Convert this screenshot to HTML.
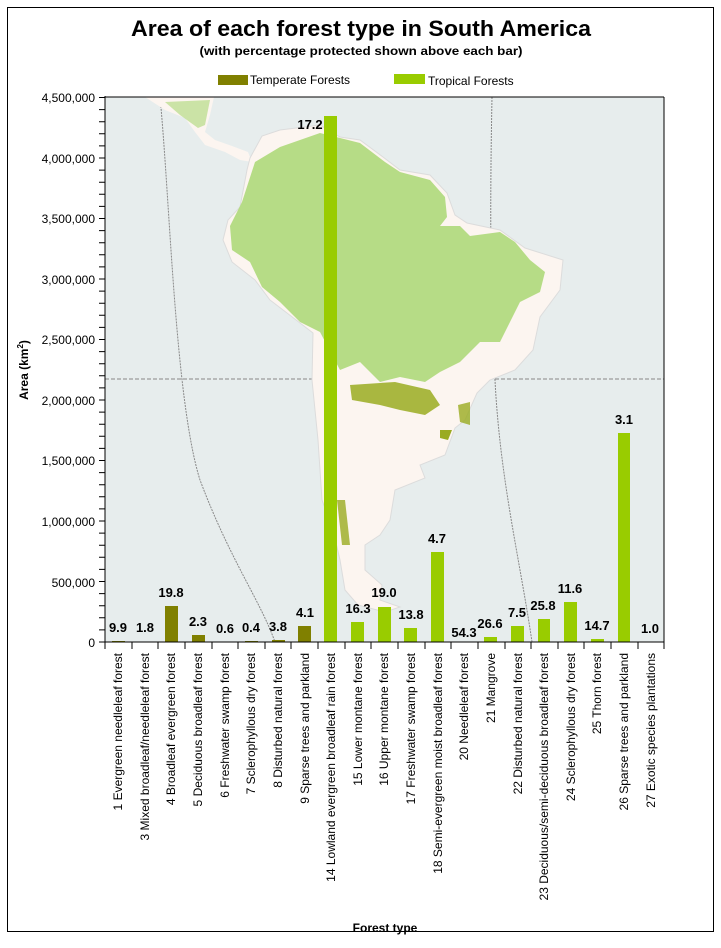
<!DOCTYPE html>
<html><head><meta charset="utf-8"><style>
html,body{margin:0;padding:0;background:#fff}
svg{display:block;font-family:"Liberation Sans",sans-serif}
</style></head><body>
<svg width="721" height="948" viewBox="0 0 721 948" xmlns="http://www.w3.org/2000/svg">
<rect x="7.5" y="7.5" width="706" height="924" fill="#fff" stroke="#000" stroke-width="1"/>
<text x="361" y="36" font-size="22" font-weight="bold" text-anchor="middle" textLength="460" lengthAdjust="spacingAndGlyphs">Area of each forest type in South America</text>
<text x="361" y="55" font-size="12" font-weight="bold" text-anchor="middle" textLength="323" lengthAdjust="spacingAndGlyphs">(with percentage protected shown above each bar)</text>
<rect x="218" y="75" width="30" height="10" fill="#808000"/>
<text x="250" y="84" font-size="12">Temperate Forests</text>
<rect x="394" y="74" width="31" height="10" fill="#99cc00"/>
<text x="428" y="85" font-size="12">Tropical Forests</text>

<!-- plot bg -->
<rect x="105" y="97" width="559" height="545" fill="#e7eded"/>
<clipPath id="pc"><rect x="105" y="97" width="559" height="545"/></clipPath>
<g clip-path="url(#pc)">
<path d="M160,97 C170,200 175,400 200,480 C230,560 260,600 275,642" fill="none" stroke="#888" stroke-dasharray="2,1"/>
<path d="M492,97 C490,200 490,300 495,380 C500,480 520,560 532,642" fill="none" stroke="#888" stroke-dasharray="2,1"/>
<line x1="105" y1="379" x2="664" y2="379" stroke="#888" stroke-dasharray="4,2"/>
<!-- central america -->
<path d="M145,97 L214,97 L210,115 L205,132 L215,140 L232,146 L248,152 L252,162 L240,160 L225,152 L205,145 L195,132 L185,118 L165,110 Z" fill="#fcf5f0"/>
<!-- south america -->
<path d="M250,158 L262,136 L280,130 L320,125 L340,137 L360,140 L383,157 L400,170 L430,175 L447,193 L455,215 L467,223 L500,230 L525,248 L563,260 L560,290 L540,317 L533,350 L515,370 L490,380 L477,393 L465,420 L455,428 L445,455 L420,465 L425,478 L395,490 L390,520 L380,535 L365,545 L365,570 L382,585 L380,600 L400,607 L385,612 L358,605 L345,590 L340,560 L333,530 L322,500 L318,440 L315,410 L312,380 L313,333 L287,313 L270,300 L255,280 L232,262 L223,240 L228,220 L240,207 L247,170 Z" fill="#fcf5f0" stroke="#dcdcdc" stroke-width="1"/>
<path d="M255,162 L280,147 L320,133 L360,143 L385,162 L400,172 L430,180 L445,197 L447,217 L440,226 L460,226 L470,236 L500,232 L515,242 L530,260 L545,272 L540,292 L520,302 L510,322 L500,342 L480,342 L460,362 L440,372 L425,382 L400,377 L380,382 L360,362 L340,370 L320,332 L300,322 L280,302 L262,287 L250,262 L232,250 L230,226 L242,202 Z" fill="#b6dc86"/>
<path d="M165,102 L210,100 L205,125 L198,128 L180,115 Z" fill="#b6dc86" opacity="0.7"/>
<path d="M350,385 L395,382 L430,390 L440,405 L425,415 L400,410 L380,405 L352,400 Z" fill="#9aab21" opacity="0.85"/>
<path d="M458,405 L470,402 L470,425 L460,422 Z" fill="#9aab21" opacity="0.8"/>
<path d="M440,430 L452,430 L448,440 L440,438 Z" fill="#9aab21"/>
<path d="M337,500 L345,500 L350,545 L342,545 Z" fill="#9aab21" opacity="0.8"/>
</g>

<!-- bars -->
<g>
<rect x="112" y="641" width="13" height="1" fill="#808000"/>
<rect x="165" y="606" width="13" height="36" fill="#808000"/>
<rect x="192" y="635" width="13" height="7" fill="#808000"/>
<rect x="245" y="641" width="13" height="1" fill="#808000"/>
<rect x="272" y="640" width="13" height="2" fill="#808000"/>
<rect x="298" y="626" width="13" height="16" fill="#808000"/>
<rect x="324" y="116" width="13" height="526" fill="#99cc00"/>
<rect x="351" y="622" width="13" height="20" fill="#99cc00"/>
<rect x="378" y="607" width="13" height="35" fill="#99cc00"/>
<rect x="404" y="628" width="13" height="14" fill="#99cc00"/>
<rect x="431" y="552" width="13" height="90" fill="#99cc00"/>
<rect x="484" y="637" width="13" height="5" fill="#99cc00"/>
<rect x="511" y="626" width="13" height="16" fill="#99cc00"/>
<rect x="538" y="619" width="12" height="23" fill="#99cc00"/>
<rect x="564" y="602" width="13" height="40" fill="#99cc00"/>
<rect x="591" y="639" width="13" height="3" fill="#99cc00"/>
<rect x="618" y="433" width="12" height="209" fill="#99cc00"/>
</g>
<g font-size="13" font-weight="bold" text-anchor="middle">
<text x="118" y="632">9.9</text>
<text x="145" y="632">1.8</text>
<text x="171" y="597">19.8</text>
<text x="198" y="626">2.3</text>
<text x="225" y="633">0.6</text>
<text x="251" y="632">0.4</text>
<text x="278" y="631">3.8</text>
<text x="305" y="617">4.1</text>
<text x="310" y="129">17.2</text>
<text x="358" y="613">16.3</text>
<text x="384" y="597">19.0</text>
<text x="411" y="619">13.8</text>
<text x="437" y="543">4.7</text>
<text x="464" y="637">54.3</text>
<text x="490" y="628">26.6</text>
<text x="517" y="617">7.5</text>
<text x="543" y="610">25.8</text>
<text x="570" y="593">11.6</text>
<text x="597" y="630">14.7</text>
<text x="624" y="424">3.1</text>
<text x="650" y="633">1.0</text>
</g>

<!-- axes -->
<line x1="105" y1="97" x2="664" y2="97" stroke="#000"/>
<line x1="664" y1="97" x2="664" y2="642" stroke="#000"/>
<line x1="105" y1="96" x2="105" y2="643" stroke="#000"/>
<line x1="104" y1="642" x2="664" y2="642" stroke="#000"/>
<g stroke="#000" id="yt">
<path d="M99,97.5h6M99,109.6h6M99,121.7h6M99,133.8h6M99,145.9h6M99,158h6M99,170.1h6M99,182.2h6M99,194.3h6M99,206.4h6M99,218.5h6M99,230.6h6M99,242.7h6M99,254.8h6M99,266.9h6M99,279h6M99,291.1h6M99,303.2h6M99,315.3h6M99,327.4h6M99,339.5h6M99,351.6h6M99,363.7h6M99,375.8h6M99,387.9h6M99,400h6M99,412.1h6M99,424.2h6M99,436.3h6M99,448.4h6M99,460.5h6M99,472.6h6M99,484.7h6M99,496.8h6M99,508.9h6M99,521h6M99,533.1h6M99,545.2h6M99,557.3h6M99,569.4h6M99,581.5h6M99,593.6h6M99,605.7h6M99,617.8h6M99,629.9h6M99,642h6"/>
<path d="M105,642v7M132,642v7M158,642v7M185,642v7M212,642v7M238,642v7M265,642v7M291,642v7M318,642v7M345,642v7M371,642v7M398,642v7M425,642v7M451,642v7M478,642v7M505,642v7M531,642v7M558,642v7M584,642v7M611,642v7M638,642v7M664,642v7"/>
</g>
<g font-size="12" text-anchor="end">
<text x="95" y="102">4,500,000</text>
<text x="95" y="163">4,000,000</text>
<text x="95" y="223">3,500,000</text>
<text x="95" y="284">3,000,000</text>
<text x="95" y="344">2,500,000</text>
<text x="95" y="405">2,000,000</text>
<text x="95" y="465">1,500,000</text>
<text x="95" y="526">1,000,000</text>
<text x="95" y="587">500,000</text>
<text x="95" y="647">0</text>
</g>
<text transform="translate(28,370) rotate(-90)" font-size="12" font-weight="bold" text-anchor="middle">Area (km<tspan font-size="8" dy="-5">2</tspan><tspan dy="5">)</tspan></text>
<g font-size="12" text-anchor="end">
<text transform="translate(122,653) rotate(-90)">1 Evergreen needleleaf forest</text>
<text transform="translate(149,653) rotate(-90)">3 Mixed broadleaf/needleleaf forest</text>
<text transform="translate(175,653) rotate(-90)">4 Broadleaf evergreen forest</text>
<text transform="translate(202,653) rotate(-90)">5 Deciduous broadleaf forest</text>
<text transform="translate(229,653) rotate(-90)">6 Freshwater swamp forest</text>
<text transform="translate(255,653) rotate(-90)">7 Sclerophyllous dry forest</text>
<text transform="translate(282,653) rotate(-90)">8 Disturbed natural forest</text>
<text transform="translate(309,653) rotate(-90)">9 Sparse trees and parkland</text>
<text transform="translate(335,653) rotate(-90)">14 Lowland evergreen broadleaf rain forest</text>
<text transform="translate(362,653) rotate(-90)">15 Lower montane forest</text>
<text transform="translate(388,653) rotate(-90)">16 Upper montane forest</text>
<text transform="translate(415,653) rotate(-90)">17 Freshwater swamp forest</text>
<text transform="translate(442,653) rotate(-90)">18 Semi-evergreen moist broadleaf forest</text>
<text transform="translate(468,653) rotate(-90)">20 Needleleaf forest</text>
<text transform="translate(495,653) rotate(-90)">21 Mangrove</text>
<text transform="translate(522,653) rotate(-90)">22 Disturbed natural forest</text>
<text transform="translate(548,653) rotate(-90)">23 Deciduous/semi-deciduous broadleaf forest</text>
<text transform="translate(575,653) rotate(-90)">24 Sclerophyllous dry forest</text>
<text transform="translate(601,653) rotate(-90)">25 Thorn forest</text>
<text transform="translate(628,653) rotate(-90)">26 Sparse trees and parkland</text>
<text transform="translate(655,653) rotate(-90)">27 Exotic species plantations</text>
</g>
<text x="385" y="932" font-size="12" font-weight="bold" text-anchor="middle">Forest type</text>
</svg>
</body></html>
